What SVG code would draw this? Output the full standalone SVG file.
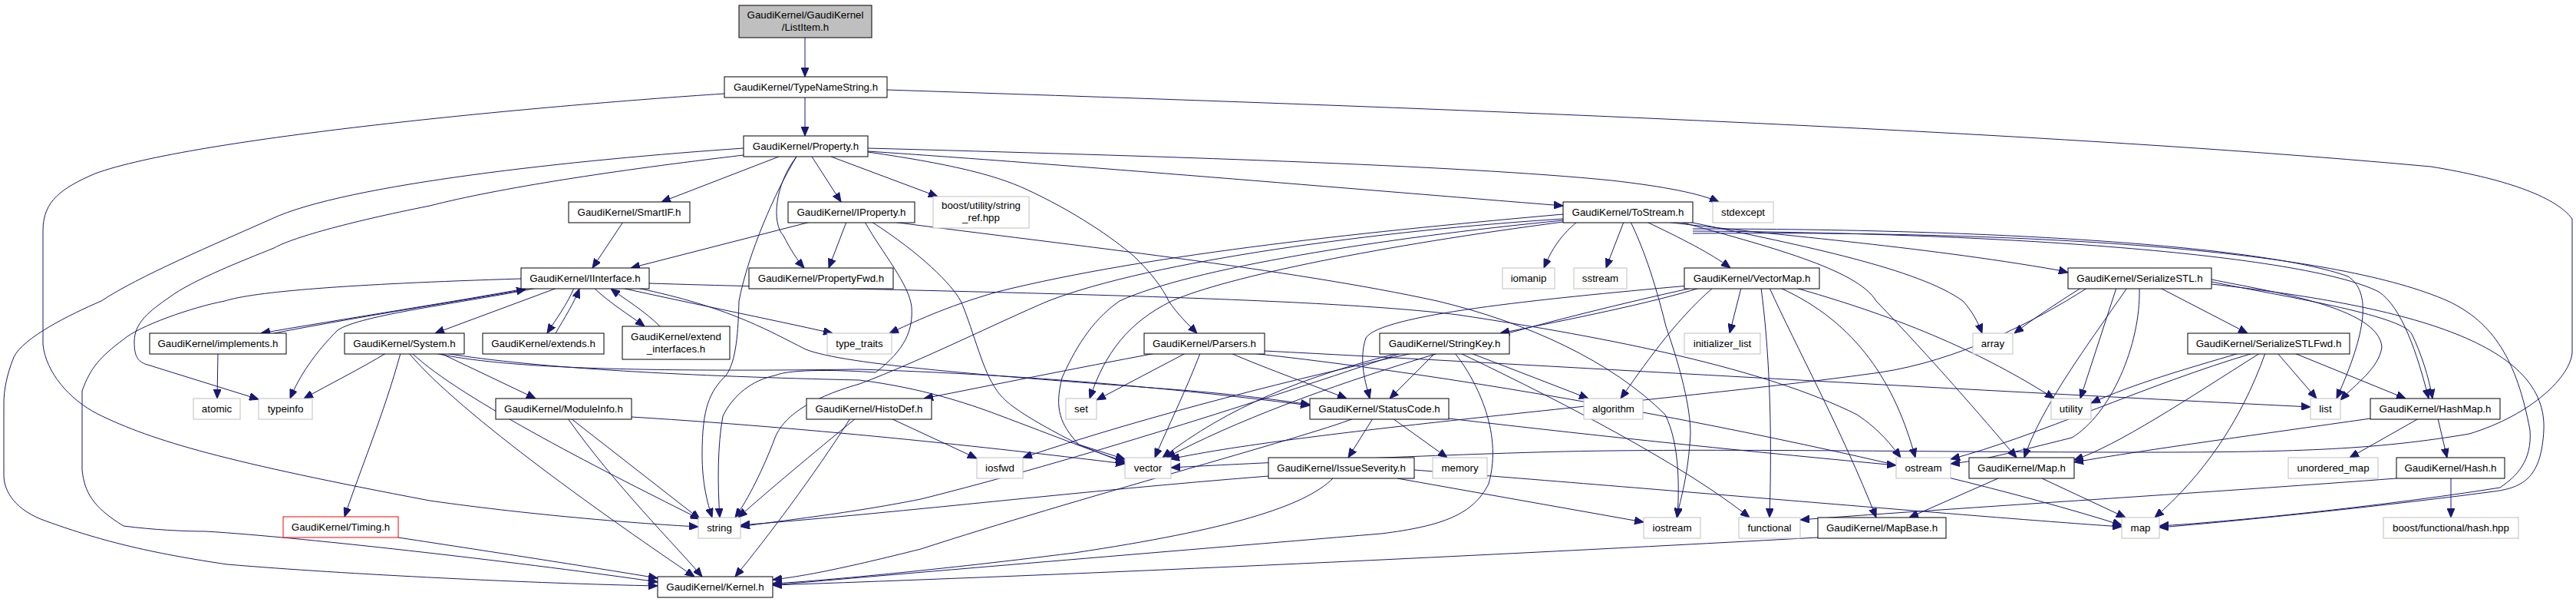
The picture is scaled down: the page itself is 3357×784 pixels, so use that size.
<svg xmlns="http://www.w3.org/2000/svg" width="3357" height="784" viewBox="0 0 3357 784">
<style>
rect{fill:#fff;stroke:#000;stroke-width:1}
.g rect{stroke:#bfbfbf}
.r rect{stroke:#ff0000}
.top rect{fill:#bfbfbf}
text{font-family:"Liberation Sans",Arial,sans-serif;font-size:13.33px;text-anchor:middle;fill:#000}
#edges path{fill:none;stroke:#191970;stroke-width:1;marker-end:url(#ah)}
</style>
<defs>
<marker id="ah" markerUnits="userSpaceOnUse" markerWidth="12" markerHeight="10" refX="12" refY="5" orient="auto">
<path d="M0,0 L12,5 L0,10 z" fill="#191970" stroke="#191970" stroke-width="1"/>
</marker>
</defs>
<rect x="0" y="0" width="3357" height="784" style="fill:#fff;stroke:none"/>
<g id="edges">
<path d="M1049,49 L1049,100"/>
<path d="M1049,127 L1049,177"/>
<path d="M944,122 C700,138 250,180 124,226 C80,245 56,262 56,300 L56,449 C60,485 90,520 127,539 C200,575 296,602 560,652 C700,672 850,683 910,686"/>
<path d="M1156,117 C1700,135 2600,165 3168,217 C3260,232 3330,255 3352,285 L3352,459 C3350,490 3300,540 3218,565 C3100,585 3000,589 2797,589 C2500,589 2200,583 2001,589 C1800,595 1600,605 1526,609"/>
<path d="M1015,204 L862,263"/>
<path d="M1058,204 L1096,263"/>
<path d="M1038,204 C1010,240 1005,290 1021,307 C1030,325 1040,340 1048,349"/>
<path d="M1038,204 C1010,250 975,330 963,392 C962,430 960,470 946,489 C925,510 915,530 915,592 C915,630 922,655 928,674"/>
<path d="M1083,204 L1222,256"/>
<path d="M1131,197 C1400,215 1750,245 2037,268"/>
<path d="M1131,193 C1500,203 1900,215 2100,235 C2170,243 2215,252 2240,263"/>
<path d="M1131,198 C1250,215 1300,230 1334,245 C1400,275 1450,310 1477,333 C1500,355 1515,375 1523,392 C1535,410 1548,422 1560,434"/>
<path d="M969,202 C800,222 650,245 560,268 C450,290 380,310 357,323 C320,338 250,365 221,387 C195,405 175,420 175,445 C175,465 180,470 189,474 L337,520"/>
<path d="M969,193 C750,208 450,240 354,285 C280,318 180,360 132,392 C90,410 30,440 18,465 C8,490 5,510 5,525 L5,619 C5,640 20,665 61,679 C120,700 180,718 296,735 C450,748 700,760 857,763"/>
<path d="M812,289 L772,349"/>
<path d="M1056,289 L822,349"/>
<path d="M1103,289 L1080,349"/>
<path d="M1127,289 C1150,330 1185,370 1188,400 C1190,430 1180,455 1141,485 C1100,482 1030,480 1010,489 C980,495 955,515 942,542 C935,580 935,630 938,674"/>
<path d="M1136,289 C1200,330 1240,370 1252,392 C1265,420 1280,480 1295,502 C1305,520 1320,535 1406,579 L1466,603"/>
<path d="M1163,289 C1400,320 1680,350 1873,392 C1990,420 2100,470 2170,540 C2190,580 2188,640 2186,674"/>
<path d="M690,375 C580,395 450,415 340,434"/>
<path d="M357,434 C470,412 600,392 685,377"/>
<path d="M700,375 C600,395 470,410 440,430 C410,460 390,490 378,519"/>
<path d="M679,363 C450,370 330,380 293,392 C250,400 180,425 161,442 C130,465 118,479 107,509 L107,612 C110,640 120,660 161,685 C200,690 240,692 268,692 C400,700 700,735 857,758"/>
<path d="M726,375 L567,434"/>
<path d="M748,375 C740,395 725,415 713,434"/>
<path d="M724,434 C735,415 748,395 755,376"/>
<path d="M774,375 C795,395 820,410 840,425"/>
<path d="M860,425 C840,405 815,390 796,376"/>
<path d="M810,375 C900,395 1000,415 1085,434"/>
<path d="M830,375 C950,400 1000,430 1050,455 C1100,475 1300,490 1500,505 C1600,512 1660,520 1707,527"/>
<path d="M846,369 C1200,380 1700,385 1900,410 C2100,440 2300,480 2420,540 C2450,560 2465,580 2477,596"/>
<path d="M284,460 L283,519"/>
<path d="M503,460 C470,480 430,500 396,519"/>
<path d="M522,460 C500,540 470,610 449,673"/>
<path d="M574,460 L698,519"/>
<path d="M537,460 C600,520 800,620 912,676"/>
<path d="M533,460 C600,540 800,680 905,751"/>
<path d="M567,460 C650,478 800,485 1120,481 C1400,490 1600,515 1707,528"/>
<path d="M580,460 C700,480 900,490 1120,495 C1200,505 1260,525 1300,540 C1380,570 1430,590 1466,601"/>
<path d="M744,545 L912,676"/>
<path d="M740,545 C800,630 880,710 915,751"/>
<path d="M823,543 C1100,560 1350,590 1466,604"/>
<path d="M519,700 C650,720 780,740 857,753"/>
<path d="M1161,545 L1273,597"/>
<path d="M1115,545 C1060,590 1000,640 962,674"/>
<path d="M1108,545 C1060,620 1000,700 958,751"/>
<path d="M1506,460 C1400,480 1300,500 1204,519"/>
<path d="M1545,460 L1429,521"/>
<path d="M1564,460 C1545,510 1520,560 1505,596"/>
<path d="M1604,460 C1650,480 1720,505 1755,519"/>
<path d="M1648,457 C2000,475 2500,505 3011,530"/>
<path d="M1631,460 C2000,500 2500,600 2765,684"/>
<path d="M1789,545 L1757,596"/>
<path d="M1815,545 L1886,596"/>
<path d="M1764,545 C1700,570 1400,650 1200,715 C1100,740 1050,750 1007,755"/>
<path d="M1888,545 C2100,570 2300,590 2471,606"/>
<path d="M1653,620 C1400,640 1200,665 965,684"/>
<path d="M1821,623 L2142,680"/>
<path d="M1737,623 C1700,660 1600,690 1400,720 C1200,745 1050,758 1007,760"/>
<path d="M1843,612 C2200,640 2600,675 2765,686"/>
<path d="M1870,460 L1811,519"/>
<path d="M1917,460 L2070,519"/>
<path d="M1841,460 C1700,490 1500,540 1333,596"/>
<path d="M1826,460 C1650,520 1400,600 1200,650 C1100,670 1000,680 965,686"/>
<path d="M1822,460 C1700,490 1600,530 1515,596"/>
<path d="M1896,460 C1920,490 1960,560 1940,630 C1920,670 1880,685 1800,695 C1500,720 1200,745 1007,762"/>
<path d="M1903,460 C2050,530 2200,610 2280,674"/>
<path d="M2215,375 C2150,395 2050,415 1955,434"/>
<path d="M2200,372 C2000,390 1800,410 1780,440 C1770,470 1780,500 1785,519"/>
<path d="M2232,375 C2180,420 2140,480 2112,519"/>
<path d="M2205,375 C2000,420 1700,500 1520,596"/>
<path d="M2340,375 C2500,420 2600,470 2677,519"/>
<path d="M2269,375 L2254,434"/>
<path d="M2295,375 C2305,450 2310,550 2306,674"/>
<path d="M2306,375 C2340,450 2400,560 2445,674"/>
<path d="M2320,375 C2420,420 2470,500 2496,596"/>
<path d="M2712,375 C2680,395 2650,415 2625,434"/>
<path d="M2720,375 C2650,420 2550,470 2450,485 C2200,520 1700,560 1525,598"/>
<path d="M2758,375 L2711,519"/>
<path d="M2772,375 C2720,450 2660,530 2638,596"/>
<path d="M2788,375 C2790,450 2750,540 2700,570 C2620,590 2580,600 2542,604"/>
<path d="M2815,375 L2929,434"/>
<path d="M2882,364 C2960,380 3100,400 3104,452 C3100,480 3070,500 3050,521"/>
<path d="M2882,367 C2970,385 3130,410 3143,435 C3155,460 3165,490 3170,519"/>
<path d="M2882,370 C3150,400 3320,450 3315,560 C3312,620 3290,635 3250,640 C3100,660 2900,680 2814,687"/>
<path d="M2055,289 C2030,310 2020,330 2012,349"/>
<path d="M2116,289 C2108,310 2100,330 2093,349"/>
<path d="M2125,289 C2140,320 2155,360 2171,425 C2190,480 2203,530 2203,565 C2200,620 2190,650 2185,674"/>
<path d="M2146,289 C2190,310 2230,330 2255,349"/>
<path d="M2171,289 C2300,305 2500,320 2683,352 L2695,355"/>
<path d="M2037,279 C1800,300 1500,330 1300,380 C1230,400 1190,420 1159,434"/>
<path d="M2037,285 C1800,300 1500,340 1366,392 C1300,420 1200,470 1120,500 C1050,520 1020,545 1010,570 C995,610 975,650 958,674"/>
<path d="M2037,287 C1800,310 1550,350 1459,392 C1420,419 1399,459 1384,492 C1374,532 1381,552 1406,579 L1466,598"/>
<path d="M2037,289 C1800,320 1600,360 1527,392 C1470,420 1440,460 1420,519"/>
<path d="M2190,289 C2300,320 2420,350 2445,392 C2520,470 2580,540 2628,596"/>
<path d="M2206,290 C2350,320 2500,350 2558,392 C2570,405 2578,420 2583,434"/>
<path d="M2206,298 C2600,298 2950,320 3060,360 C3090,380 3085,430 3045,519"/>
<path d="M2206,301 C2600,303 3000,330 3100,380 C3130,400 3150,460 3165,519"/>
<path d="M2206,304 C2700,300 3050,330 3190,392 C3250,420 3280,470 3297,560 C3300,600 3280,620 3258,635 C3100,660 2900,680 2814,685"/>
<path d="M3152,545 L3062,596"/>
<path d="M3177,545 L3189,596"/>
<path d="M3089,545 C2950,565 2800,585 2703,602"/>
<path d="M2918,460 C2850,480 2780,500 2725,525"/>
<path d="M2936,460 C2800,500 2650,570 2542,598"/>
<path d="M2945,460 C2850,520 2760,580 2703,599"/>
<path d="M2952,460 C2920,550 2870,620 2808,674"/>
<path d="M2968,460 L3019,519"/>
<path d="M2990,460 L3135,519"/>
<path d="M2604,623 L2488,674"/>
<path d="M2661,623 L2770,674"/>
<path d="M3194,623 L3194,674"/>
<path d="M3123,623 C2900,640 2500,665 2346,677"/>
<path d="M2369,700 C2000,720 1500,745 1007,762"/>
</g>
<g id="n_listitem" class="top"><rect x="963" y="7" width="173" height="42"/><text x="1049.5" y="24">GaudiKernel/GaudiKernel</text><text x="1049.5" y="40">/ListItem.h</text></g>
<g id="n_tns"><rect x="944" y="100" width="212" height="27"/><text x="1050" y="118">GaudiKernel/TypeNameString.h</text></g>
<g id="n_prop"><rect x="969" y="177" width="162" height="27"/><text x="1050" y="195">GaudiKernel/Property.h</text></g>
<g id="n_smartif"><rect x="741" y="263" width="158" height="27"/><text x="820" y="281">GaudiKernel/SmartIF.h</text></g>
<g id="n_iprop"><rect x="1027" y="263" width="165" height="27"/><text x="1109.5" y="281">GaudiKernel/IProperty.h</text></g>
<g id="n_sref" class="g"><rect x="1216" y="256" width="125" height="41"/><text x="1278.5" y="272">boost/utility/string</text><text x="1278.5" y="288">_ref.hpp</text></g>
<g id="n_tostream"><rect x="2037" y="263" width="169" height="27"/><text x="2121.5" y="281">GaudiKernel/ToStream.h</text></g>
<g id="n_stdexcept" class="g"><rect x="2232" y="263" width="79" height="27"/><text x="2271.5" y="281">stdexcept</text></g>
<g id="n_iint"><rect x="679" y="349" width="167" height="27"/><text x="762.5" y="367">GaudiKernel/IInterface.h</text></g>
<g id="n_pfwd"><rect x="976" y="349" width="188" height="27"/><text x="1070" y="367">GaudiKernel/PropertyFwd.h</text></g>
<g id="n_iomanip" class="g"><rect x="1958" y="349" width="68" height="27"/><text x="1992" y="367">iomanip</text></g>
<g id="n_sstream" class="g"><rect x="2051" y="349" width="69" height="27"/><text x="2085.5" y="367">sstream</text></g>
<g id="n_vmap"><rect x="2195" y="349" width="176" height="27"/><text x="2283" y="367">GaudiKernel/VectorMap.h</text></g>
<g id="n_sstl"><rect x="2695" y="349" width="187" height="27"/><text x="2788.5" y="367">GaudiKernel/SerializeSTL.h</text></g>
<g id="n_impl"><rect x="195" y="434" width="178" height="27"/><text x="284" y="452">GaudiKernel/implements.h</text></g>
<g id="n_system"><rect x="449" y="434" width="156" height="27"/><text x="527" y="452">GaudiKernel/System.h</text></g>
<g id="n_extends"><rect x="629" y="434" width="158" height="27"/><text x="708" y="452">GaudiKernel/extends.h</text></g>
<g id="n_extint"><rect x="811" y="425" width="140" height="43"/><text x="881" y="443">GaudiKernel/extend</text><text x="881" y="459">_interfaces.h</text></g>
<g id="n_typetraits" class="g"><rect x="1078" y="434" width="84" height="27"/><text x="1120" y="452">type_traits</text></g>
<g id="n_parsers"><rect x="1491" y="434" width="157" height="27"/><text x="1569.5" y="452">GaudiKernel/Parsers.h</text></g>
<g id="n_strkey"><rect x="1798" y="434" width="169" height="27"/><text x="1882.5" y="452">GaudiKernel/StringKey.h</text></g>
<g id="n_initlist" class="g"><rect x="2195" y="434" width="99" height="27"/><text x="2244.5" y="452">initializer_list</text></g>
<g id="n_array" class="g"><rect x="2571" y="434" width="52" height="27"/><text x="2597" y="452">array</text></g>
<g id="n_sstlfwd"><rect x="2851" y="434" width="211" height="27"/><text x="2956.5" y="452">GaudiKernel/SerializeSTLFwd.h</text></g>
<g id="n_atomic" class="g"><rect x="252" y="519" width="61" height="27"/><text x="282.5" y="537">atomic</text></g>
<g id="n_typeinfo" class="g"><rect x="337" y="519" width="70" height="27"/><text x="372" y="537">typeinfo</text></g>
<g id="n_modinfo"><rect x="646" y="519" width="177" height="27"/><text x="734.5" y="537">GaudiKernel/ModuleInfo.h</text></g>
<g id="n_histodef"><rect x="1051" y="519" width="163" height="27"/><text x="1132.5" y="537">GaudiKernel/HistoDef.h</text></g>
<g id="n_set" class="g"><rect x="1389" y="519" width="40" height="27"/><text x="1409" y="537">set</text></g>
<g id="n_status"><rect x="1707" y="519" width="181" height="27"/><text x="1797.5" y="537">GaudiKernel/StatusCode.h</text></g>
<g id="n_algorithm" class="g"><rect x="2064" y="519" width="77" height="27"/><text x="2102.5" y="537">algorithm</text></g>
<g id="n_utility" class="g"><rect x="2673" y="519" width="52" height="27"/><text x="2699" y="537">utility</text></g>
<g id="n_list" class="g"><rect x="3011" y="519" width="39" height="27"/><text x="3030.5" y="537">list</text></g>
<g id="n_hashmap"><rect x="3089" y="519" width="169" height="27"/><text x="3173.5" y="537">GaudiKernel/HashMap.h</text></g>
<g id="n_iosfwd" class="g"><rect x="1273" y="596" width="60" height="27"/><text x="1303" y="614">iosfwd</text></g>
<g id="n_vector" class="g"><rect x="1466" y="596" width="60" height="27"/><text x="1496" y="614">vector</text></g>
<g id="n_issue"><rect x="1653" y="596" width="190" height="27"/><text x="1748" y="614">GaudiKernel/IssueSeverity.h</text></g>
<g id="n_memory" class="g"><rect x="1867" y="596" width="71" height="27"/><text x="1902.5" y="614">memory</text></g>
<g id="n_ostream" class="g"><rect x="2471" y="596" width="71" height="27"/><text x="2506.5" y="614">ostream</text></g>
<g id="n_maph"><rect x="2566" y="596" width="137" height="27"/><text x="2634.5" y="614">GaudiKernel/Map.h</text></g>
<g id="n_umap" class="g"><rect x="2982" y="596" width="117" height="27"/><text x="3040.5" y="614">unordered_map</text></g>
<g id="n_hash"><rect x="3123" y="596" width="141" height="27"/><text x="3193.5" y="614">GaudiKernel/Hash.h</text></g>
<g id="n_timing" class="r"><rect x="369" y="673" width="150" height="27"/><text x="444" y="691">GaudiKernel/Timing.h</text></g>
<g id="n_string" class="g"><rect x="910" y="674" width="55" height="27"/><text x="937.5" y="692">string</text></g>
<g id="n_iostream" class="g"><rect x="2142" y="674" width="74" height="27"/><text x="2179" y="692">iostream</text></g>
<g id="n_functional" class="g"><rect x="2266" y="674" width="80" height="27"/><text x="2306" y="692">functional</text></g>
<g id="n_mapbase"><rect x="2369" y="674" width="167" height="27"/><text x="2452.5" y="692">GaudiKernel/MapBase.h</text></g>
<g id="n_map" class="g"><rect x="2765" y="674" width="49" height="27"/><text x="2789.5" y="692">map</text></g>
<g id="n_bhash" class="g"><rect x="3106" y="674" width="176" height="27"/><text x="3194" y="692">boost/functional/hash.hpp</text></g>
<g id="n_kernel"><rect x="857" y="751" width="150" height="27"/><text x="932" y="769">GaudiKernel/Kernel.h</text></g>
</svg>
